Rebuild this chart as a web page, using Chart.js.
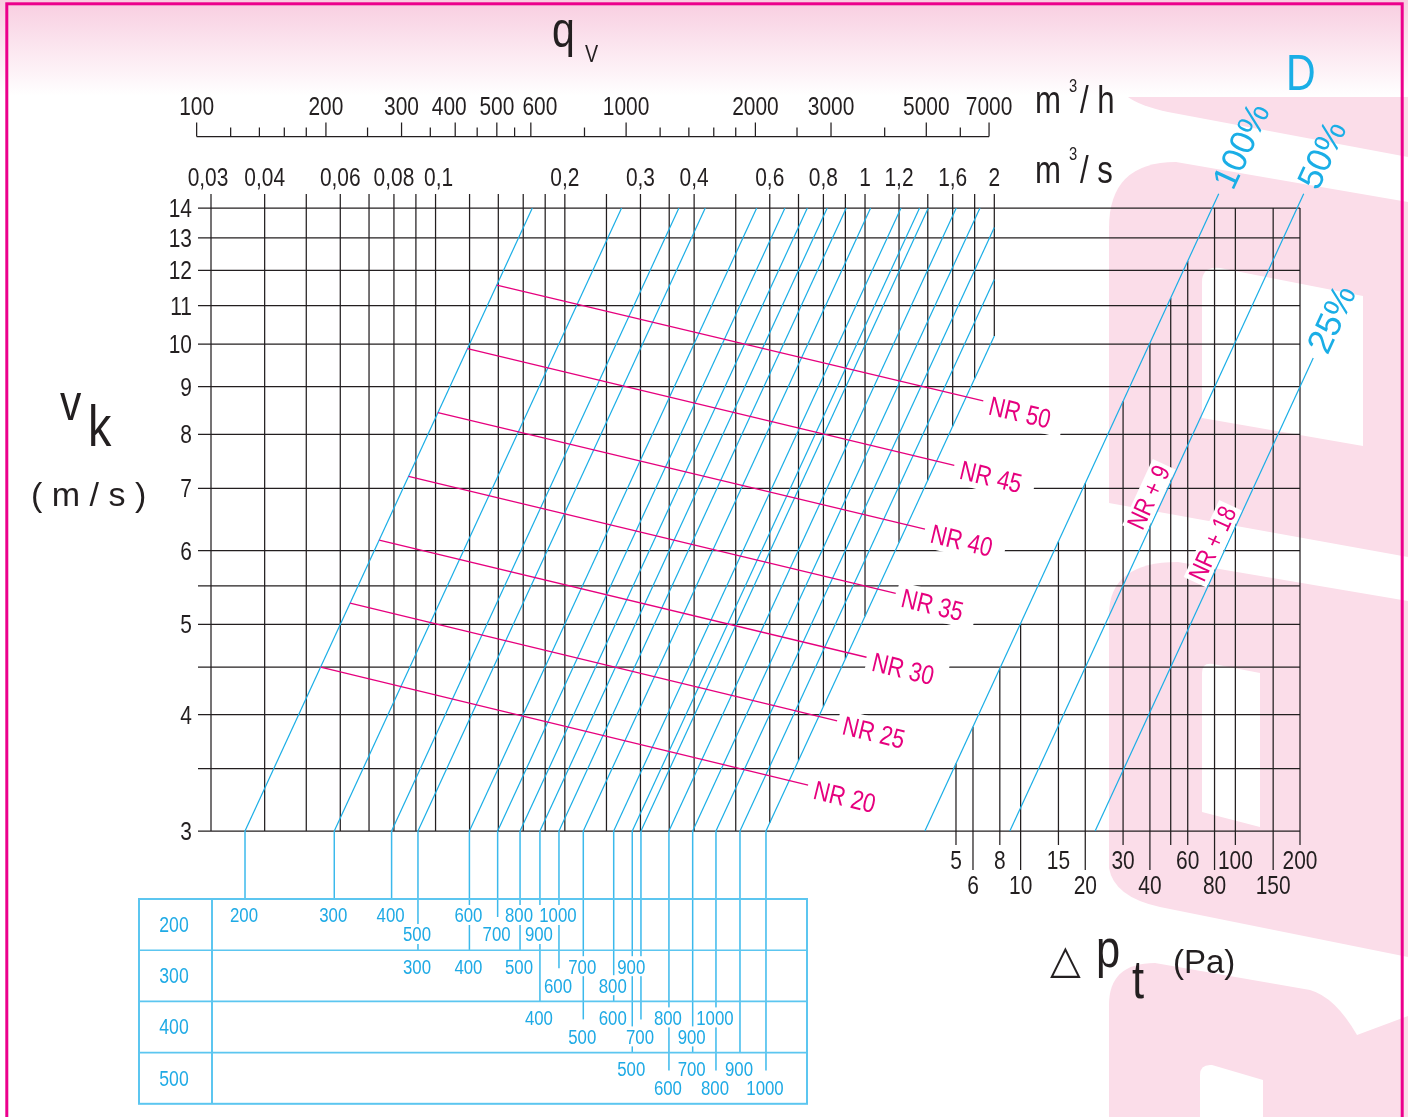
<!DOCTYPE html>
<html lang="de">
<head>
<meta charset="utf-8">
<title>Diagramm D</title>
<script src="https://cdn.jsdelivr.net/npm/chart.js@4.4.1/dist/chart.umd.min.js"></script>
<style>
html,body{margin:0;padding:0;background:#fff;overflow:hidden}
#c{display:block}
</style>
</head>
<body>
<canvas id="c" width="1408" height="1117" style="width:1408px;height:1117px"></canvas>
<script>
// ================= DATA =================
// velocity v_k (m/s): horizontal grid lines and labelled ticks
const velocityGrid = [3, 3.5, 4, 4.5, 5, 5.5, 6, 7, 8, 9, 10, 11, 12, 13, 14];
const velocityLabels = [3, 4, 5, 6, 7, 8, 9, 10, 11, 12, 13, 14];
// air flow q_V (m³/s): vertical grid lines and labelled ticks
const flowGrid = [0.03, 0.04, 0.05, 0.06, 0.07, 0.08, 0.09, 0.1, 0.12, 0.14, 0.16, 0.18, 0.2, 0.25, 0.3, 0.35, 0.4, 0.5, 0.6, 0.7, 0.8, 0.9, 1, 1.2, 1.4, 1.6, 1.8, 2];
const flowLabels = [0.03, 0.04, 0.06, 0.08, 0.1, 0.2, 0.3, 0.4, 0.6, 0.8, 1, 1.2, 1.6, 2];
// air flow (m³/h) top scale
const flowHourMajor = [100, 200, 300, 400, 500, 600, 1000, 2000, 3000, 5000, 7000];
const flowHourMinor = [120, 140, 160, 180, 250, 350, 450, 550, 800, 1200, 1400, 1600, 1800, 2500, 4000, 6000];
// duct size lines: air flow (m³/s) of each line at v = 3 m/s
const ductQ3 = [0.0360, 0.0581, 0.0790, 0.0910, 0.1199, 0.1395, 0.1573, 0.1750, 0.1938, 0.2208, 0.2599, 0.2871, 0.3008, 0.3495, 0.3969, 0.4497, 0.5115, 0.5880];
// duct heights (table rows)
const ductHeights = [200, 300, 400, 500];
// [height, width, index of duct line]
const ductTable = [
  [200,200,0],[200,300,1],[200,400,2],[200,500,3],[200,600,4],[200,700,5],[200,800,6],[200,900,7],[200,1000,8],
  [300,300,3],[300,400,4],[300,500,6],[300,600,8],[300,700,9],[300,800,10],[300,900,11],
  [400,400,7],[400,500,9],[400,600,10],[400,700,12],[400,800,13],[400,900,14],[400,1000,15],
  [500,500,11],[500,600,13],[500,700,14],[500,800,15],[500,900,16],[500,1000,17]
];
// NR noise curves: start velocity (on first duct line), end point (q, v)
const nrLevels = [20, 25, 30, 35, 40, 45, 50];
const nrStartV = [4.50, 5.27, 6.16, 7.21, 8.44, 9.89, 11.57];
const nrEndQ = [0.737, 0.861, 1.008, 1.179, 1.379, 1.614, 1.885];
const nrEndV = [3.36, 3.94, 4.61, 5.40, 6.33, 7.41, 8.69];
// total pressure drop Δp_t (Pa)
const dpGrid = [5, 6, 8, 10, 15, 20, 30, 40, 50, 60, 80, 100, 150, 200];
const dpLabelsUpper = [5, 8, 15, 30, 60, 100, 200];
const dpLabelsLower = [6, 10, 20, 40, 80, 150];
// damper opening lines: Δp = k · v²
const damperNames = ['100%', '50%', '25%'];
const damperK = [0.398, 0.99, 2.47];
const damperVEnd = [14.5, 14.5, 9.66];
const damperNotes = ['', 'NR + 9', 'NR + 18'];

// ================= STYLE =================
const INK = '#231f20';
const BLUE = '#1aaee6';
const LEAD = '#3bb9ec';
const TBL_LINE = '#5cc6f0';
const TBL_TXT = '#1eaae5';
const MAG = '#e6007e';
const PINK = '#fbdde9';
const BORDER = '#ec008c';
const FONT_REG = "'Liberation Sans', Arial, sans-serif";
let hasNarrow = false;

const V_MIN = Math.min(...velocityGrid), V_MAX = Math.max(...velocityGrid);
const Q_MIN = flowGrid[0], Q_GRID_MAX = flowGrid[flowGrid.length - 1];
const Q_SCALE_MAX = 10.3;           // flow-axis range reaching the right end of the Δp field
const DP_MAX = dpGrid[dpGrid.length - 1];
const DP_MIN = DP_MAX / Math.pow(Q_SCALE_MAX / Q_MIN, 2);   // Δp ∝ v² → half the decade width

function detectNarrow(ctx) {
  ctx.save();
  ctx.font = "50px 'Liberation Sans Narrow', monospace";
  const a = ctx.measureText('NRmm1234').width;
  ctx.font = "50px monospace";
  const b = ctx.measureText('NRmm1234').width;
  ctx.restore();
  hasNarrow = Math.abs(a - b) > 0.5;
}
function fontFor(o) {
  return (o.narrow && hasNarrow) ? "'Liberation Sans Narrow'" : FONT_REG;
}
function measure(ctx, s, o) {
  ctx.save();
  ctx.font = o.size + 'px ' + fontFor(o);
  let w = ctx.measureText(s).width;
  ctx.restore();
  if (o.narrow && !hasNarrow) w *= 0.82;
  return w;
}
function txt(ctx, s, x, y, o) {
  ctx.save();
  ctx.translate(x, y);
  if (o.angle) ctx.rotate(o.angle);
  ctx.translate(o.dx || 0, o.dy || 0);
  if (o.narrow && !hasNarrow) ctx.scale(0.82, 1);
  ctx.font = o.size + 'px ' + fontFor(o);
  ctx.fillStyle = o.color || INK;
  ctx.textAlign = o.align || 'left';
  ctx.textBaseline = 'alphabetic';
  ctx.fillText(s, 0, 0);
  ctx.restore();
}
function seg(c, x0, y0, x1, y1) {
  c.beginPath(); c.moveTo(x0, y0); c.lineTo(x1, y1); c.stroke();
}
const fmt = v => String(v).replace('.', ',');

// ================= DATASETS =================
const datasets = [];
ductQ3.forEach(q3 => {
  const qTop = q3 * V_MAX / V_MIN;
  const end = qTop <= Q_GRID_MAX ? { x: qTop, y: V_MAX } : { x: Q_GRID_MAX, y: V_MIN * Q_GRID_MAX / q3 };
  datasets.push({ data: [{ x: q3, y: V_MIN }, end], xAxisID: 'x', yAxisID: 'y',
    showLine: true, borderColor: BLUE, borderWidth: 1.2, pointRadius: 0, order: 2 });
});
nrLevels.forEach((lvl, i) => {
  datasets.push({ data: [{ x: ductQ3[0] * nrStartV[i] / V_MIN, y: nrStartV[i] }, { x: nrEndQ[i], y: nrEndV[i] }],
    xAxisID: 'x', yAxisID: 'y', showLine: true, borderColor: MAG, borderWidth: 1.3, pointRadius: 0, order: 1 });
});
damperK.forEach((k, i) => {
  const vE = damperVEnd[i];
  datasets.push({ data: [{ x: k * V_MIN * V_MIN, y: V_MIN }, { x: k * vE * vE, y: vE }],
    xAxisID: 'xp', yAxisID: 'y', showLine: true, borderColor: BLUE, borderWidth: 1.2, pointRadius: 0, clip: false, order: 2 });
});

// ================= PLUGINS =================
const bgPlugin = {
  id: 'bg',
  beforeDraw(chart) {
    const c = chart.ctx;
    detectNarrow(c);
    c.save();
    c.fillStyle = '#fff'; c.fillRect(0, 0, 1408, 1117);
    const g = c.createLinearGradient(0, 0, 0, 96);
    g.addColorStop(0, '#f8cde0'); g.addColorStop(1, '#ffffff');
    c.fillStyle = g; c.fillRect(0, 0, 1408, 96);
    c.fillStyle = PINK;
    // band A
    c.beginPath(); c.moveTo(1128, 97); c.lineTo(1408, 97); c.lineTo(1408, 157); c.lineTo(1168, 112);
    c.quadraticCurveTo(1140, 106, 1128, 97); c.closePath(); c.fill();
    // block B
    c.beginPath(); c.moveTo(1109, 503); c.lineTo(1109, 228); c.quadraticCurveTo(1109, 162, 1176, 162);
    c.lineTo(1408, 202); c.lineTo(1408, 557); c.closePath(); c.fill();
    // block C
    c.beginPath(); c.moveTo(1109, 868); c.lineTo(1109, 615); c.quadraticCurveTo(1109, 562, 1178, 562);
    c.lineTo(1408, 601); c.lineTo(1408, 957); c.lineTo(1160, 907); c.quadraticCurveTo(1114, 897, 1109, 868);
    c.closePath(); c.fill();
    // block D
    c.beginPath(); c.moveTo(1109, 1117); c.lineTo(1109, 1005); c.quadraticCurveTo(1109, 963, 1155, 963);
    c.lineTo(1310, 990); c.quadraticCurveTo(1335, 997, 1357, 1035); c.lineTo(1408, 1016); c.lineTo(1408, 1117);
    c.closePath(); c.fill();
    // white cut-outs
    c.fillStyle = '#fff';
    c.beginPath(); c.moveTo(1202, 418); c.lineTo(1202, 282); c.quadraticCurveTo(1202, 266, 1220, 268);
    c.lineTo(1363, 296); c.lineTo(1363, 446); c.closePath(); c.fill();
    c.beginPath(); c.moveTo(1202, 812); c.lineTo(1202, 673); c.quadraticCurveTo(1202, 662, 1213, 664);
    c.lineTo(1260, 673); c.lineTo(1260, 827); c.closePath(); c.fill();
    c.beginPath(); c.moveTo(1200, 1117); c.lineTo(1200, 1075); c.quadraticCurveTo(1200, 1064, 1212, 1065);
    c.lineTo(1263, 1080); c.lineTo(1263, 1117); c.closePath(); c.fill();
    c.restore();
  }
};

const gridPlugin = {
  id: 'grid',
  beforeDatasetsDraw(chart) {
    const c = chart.ctx, xs = chart.scales.x, ys = chart.scales.y, xp = chart.scales.xp, xh = chart.scales.xh;
    const a = chart.chartArea;
    c.save();
    c.strokeStyle = INK; c.lineWidth = 1.25;
    velocityGrid.forEach(v => {
      const y = ys.getPixelForValue(v);
      seg(c, xs.getPixelForValue(Q_MIN) - 13, y, a.right, y);
    });
    const qLast = ductQ3[ductQ3.length - 1];
    flowGrid.forEach(q => {
      const x = xs.getPixelForValue(q);
      const vb = Math.max(V_MIN, V_MIN * q / qLast);
      seg(c, x, a.top - 14, x, ys.getPixelForValue(vb));
    });
    dpGrid.forEach(dp => {
      const x = xp.getPixelForValue(dp);
      const vt = Math.min(V_MAX, Math.sqrt(dp / damperK[0]));
      const low = dpLabelsLower.includes(dp);
      seg(c, x, ys.getPixelForValue(vt), x, a.bottom + (low ? 39 : 14));
    });
    // m³/h scale
    const yb = 136.5;
    seg(c, xh.getPixelForValue(flowHourMajor[0]), yb, xh.getPixelForValue(flowHourMajor[flowHourMajor.length - 1]), yb);
    flowHourMajor.forEach(h => { const x = xh.getPixelForValue(h); seg(c, x, yb, x, yb - 14); });
    flowHourMinor.forEach(h => { const x = xh.getPixelForValue(h); seg(c, x, yb, x, yb - 9); });
    c.restore();
  }
};

const labelPlugin = {
  id: 'labels',
  afterDatasetsDraw(chart) {
    const c = chart.ctx, xs = chart.scales.x, ys = chart.scales.y, xp = chart.scales.xp, xh = chart.scales.xh;
    const a = chart.chartArea;
    const TS = 25.5;
    // axis tick labels (crowded top labels nudged apart as in the original)
    const hourNudge = { 400: -6, 600: 9 };
    const flowNudge = { 0.03: -3, 0.1: 3 };
    flowHourMajor.forEach(h => txt(c, String(h), xh.getPixelForValue(h) + (hourNudge[h] || 0), 115, { size: TS, narrow: true, align: 'center' }));
    flowLabels.forEach(q => txt(c, fmt(q), xs.getPixelForValue(q) + (flowNudge[q] || 0), 186, { size: TS, narrow: true, align: 'center' }));
    velocityLabels.forEach(v => txt(c, String(v), 192, ys.getPixelForValue(v) + 9, { size: TS, narrow: true, align: 'right' }));
    dpLabelsUpper.forEach(d => txt(c, String(d), xp.getPixelForValue(d), a.bottom + 38, { size: TS, narrow: true, align: 'center' }));
    dpLabelsLower.forEach(d => txt(c, String(d), xp.getPixelForValue(d), a.bottom + 63, { size: TS, narrow: true, align: 'center' }));

    // titles
    txt(c, 'q', 552, 47, { size: 50, narrow: true });
    txt(c, 'V', 585, 62, { size: 24, narrow: true });
    txt(c, 'v', 60, 420, { size: 52, narrow: true });
    txt(c, 'k', 88, 446, { size: 57, narrow: true });
    txt(c, '( m / s )', 31, 506, { size: 34 });
    txt(c, 'm', 1035, 113, { size: 38, narrow: true });
    txt(c, '3', 1069, 92, { size: 18, narrow: true });
    txt(c, '/ h', 1080, 113, { size: 38, narrow: true });
    txt(c, 'm', 1035, 183, { size: 38, narrow: true });
    txt(c, '3', 1069, 160, { size: 18, narrow: true });
    txt(c, '/ s', 1080, 183, { size: 38, narrow: true });
    txt(c, 'D', 1286, 90, { size: 50, narrow: true, color: BLUE });
    c.save();
    c.font = "40px 'DejaVu Sans'"; c.fillStyle = INK; c.textBaseline = 'alphabetic';
    c.fillText('△', 1050, 973);
    c.restore();
    txt(c, 'p', 1096, 967, { size: 53, narrow: true });
    txt(c, 't', 1132, 998, { size: 53, narrow: true });
    txt(c, '(Pa)', 1173, 973, { size: 33 });

    // NR labels
    nrLevels.forEach((lvl, i) => {
      const x0 = xs.getPixelForValue(ductQ3[0] * nrStartV[i] / V_MIN), y0 = ys.getPixelForValue(nrStartV[i]);
      const x1 = xs.getPixelForValue(nrEndQ[i]), y1 = ys.getPixelForValue(nrEndV[i]);
      const ang = Math.atan2(y1 - y0, x1 - x0);
      const s = 'NR ' + lvl;
      const o = { size: 27, narrow: true, color: MAG, angle: ang, dx: 7, dy: 12 };
      const w = measure(c, s, o);
      c.save(); c.translate(x1, y1); c.rotate(ang);
      c.fillStyle = '#fff'; c.fillRect(1, -12, w + 19, 30);
      c.restore();
      txt(c, s, x1, y1, o);
    });

    // damper labels
    const noteV = [0, 6.75, 6.02];
    damperK.forEach((k, i) => {
      const vE = damperVEnd[i];
      const x0 = xp.getPixelForValue(k * V_MIN * V_MIN), y0 = ys.getPixelForValue(V_MIN);
      const x1 = xp.getPixelForValue(k * vE * vE), y1 = ys.getPixelForValue(vE);
      const ang = Math.atan2(y1 - y0, x1 - x0);
      txt(c, damperNames[i], x1, y1, { size: 35, color: BLUE, angle: ang, dx: 8, dy: 12 });
      if (damperNotes[i]) {
        const vN = noteV[i];
        const px = xp.getPixelForValue(k * vN * vN), py = ys.getPixelForValue(vN);
        const o = { size: 26, narrow: true, color: MAG, angle: ang, align: 'center', dx: 0, dy: -5 };
        const w = measure(c, damperNotes[i], o);
        c.save(); c.translate(px, py); c.rotate(ang);
        c.fillStyle = '#fff'; c.fillRect(-w / 2 - 3, -26, w + 6, 25);
        c.restore();
        txt(c, damperNotes[i], px, py, o);
      }
    });

    // ===== duct table =====
    const T = { left: 139, right: 807, top: 899, rowH: 51.2, col: 212 };
    const entries = ductTable.map(([h, w, li]) => ({ h, w, li, x: xs.getPixelForValue(ductQ3[li]), row: ductHeights.indexOf(h) }));
    ductHeights.forEach((h, r) => {
      const rowE = entries.filter(e => e.row === r).sort((p, q) => p.x - q.x);
      let prev = null;
      rowE.forEach(e => { e.tier = (prev && prev.tier === 0 && e.x - prev.x < 48) ? 1 : 0; prev = e; });
    });
    c.save();
    c.strokeStyle = LEAD; c.lineWidth = 1.5;
    ductQ3.forEach((q3, li) => {
      const es = entries.filter(e => e.li === li);
      const endY = Math.max(...es.map(e => T.top + e.row * T.rowH + (e.tier ? 18 : 0)));
      const x = xs.getPixelForValue(q3);
      seg(c, x, a.bottom, x, endY);
    });
    c.restore();
    entries.forEach(e => {
      const s = String(e.w);
      const o = { size: 20.5, narrow: true, color: TBL_TXT, align: 'center' };
      const w = measure(c, s, o);
      const cy = T.top + e.row * T.rowH + (e.tier ? 35 : 16);
      c.save(); c.fillStyle = '#fff'; c.fillRect(e.x - 1 - w / 2 - 2, cy - 10, w + 4, 20); c.restore();
      txt(c, s, e.x - 1, cy + 7.3, o);
    });
    ductHeights.forEach((h, r) => txt(c, String(h), 174, T.top + r * T.rowH + 33, { size: 21.5, narrow: true, color: TBL_TXT, align: 'center' }));
    c.save();
    c.strokeStyle = TBL_LINE; c.lineWidth = 1.6;
    for (let r = 1; r < ductHeights.length; r++) seg(c, T.left, T.top + r * T.rowH, T.right, T.top + r * T.rowH);
    c.lineWidth = 2;
    seg(c, T.col, T.top, T.col, T.top + ductHeights.length * T.rowH);
    c.strokeRect(T.left, T.top, T.right - T.left, ductHeights.length * T.rowH);
    c.restore();
  },
  afterDraw(chart) {
    const c = chart.ctx;
    c.save();
    c.strokeStyle = BORDER; c.lineWidth = 3;
    c.strokeRect(6.8, 3.8, 1395.4, 1200);
    c.restore();
  }
};

// ================= CHART =================
new Chart(document.getElementById('c'), {
  type: 'scatter',
  data: { datasets },
  options: {
    responsive: false,
    animation: false,
    devicePixelRatio: 1,
    events: [],
    layout: { padding: { left: 211, right: 108, top: 208, bottom: 286 } },
    plugins: { legend: { display: false }, tooltip: { enabled: false }, title: { display: false } },
    scales: {
      x: { type: 'logarithmic', axis: 'x', min: Q_MIN, max: Q_SCALE_MAX, display: false },
      y: { type: 'logarithmic', axis: 'y', min: V_MIN, max: V_MAX, display: false },
      xp: { type: 'logarithmic', axis: 'x', min: DP_MIN, max: DP_MAX, display: false },
      xh: { type: 'logarithmic', axis: 'x', min: Q_MIN * 3600, max: Q_SCALE_MAX * 3600, display: false }
    }
  },
  plugins: [bgPlugin, gridPlugin, labelPlugin]
});
</script>
</body>
</html>
